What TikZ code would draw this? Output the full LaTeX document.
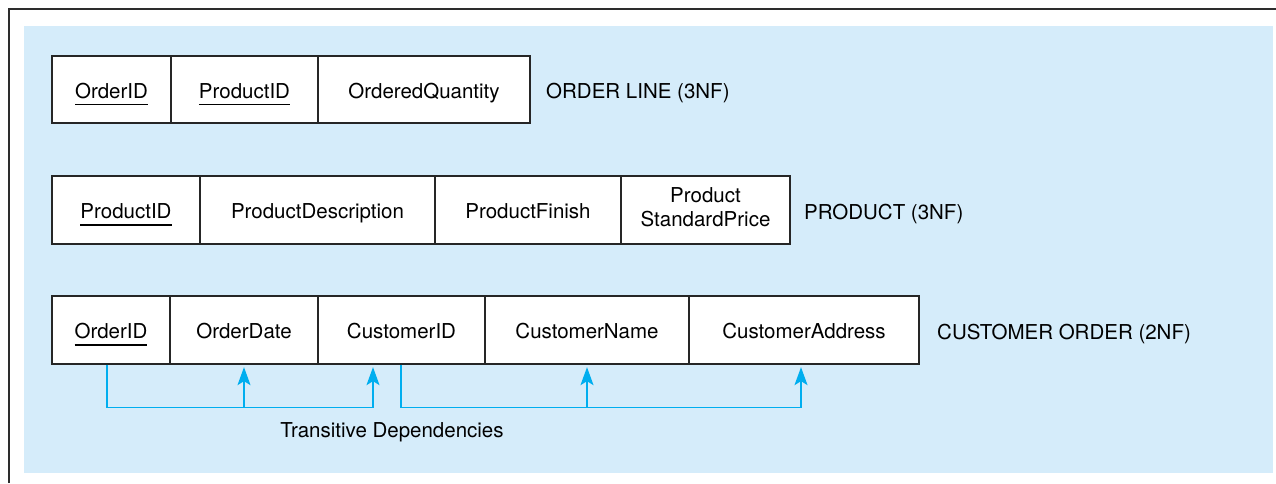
\documentclass[tikz,border=0pt]{standalone}
\usepackage{fontspec}
\setmainfont{TeX Gyre Heros}
\usetikzlibrary{arrows.meta,calc}
\definecolor{bgblue}{RGB}{213,236,250}
\definecolor{depcyan}{RGB}{0,174,239}
\definecolor{framegray}{RGB}{45,45,45}
\newcommand\keyattr[1]{\sbox0{#1}\usebox0\llap{\smash{\rule[-7pt]{\wd0}{1.3pt}}}}
\begin{document}
\begin{tikzpicture}[x=1pt,y=-1pt,
  font=\fontsize{20.5}{24}\selectfont,
  cell/.style={draw=black!85, line width=1.3pt, fill=white, inner sep=0pt,
    minimum height=68pt, text height=19pt, text depth=2pt, align=center},
  relname/.style={anchor=base west, inner sep=0pt},
  dep/.style={draw=depcyan, line width=1.5pt},
  arr/.style={-{Stealth[length=18pt,width=13pt,inset=4pt]}, shorten >=2.5pt}
]
\useasboundingbox (0,0) rectangle (1276,483);
% frame and background
\fill[bgblue] (24,26) rectangle (1273,473);
\draw[framegray, line width=2pt] (9,483) -- (9,9) -- (1276,9);

% ORDER LINE
\node[cell, minimum width=119pt, minimum height=67pt] (ol1) at (111.5,89.5) {\keyattr{OrderID}};
\node[cell, minimum width=147pt, minimum height=67pt] (ol2) at (244.5,89.5) {\keyattr{ProductID}};
\node[cell, minimum width=212pt, minimum height=67pt] (ol3) at (424,89.5) {OrderedQuantity};
\node[relname] (olname) at (546,98) {ORDER LINE (3NF)};

% PRODUCT
\node[cell, minimum width=148pt] (p1) at (126,210) {\keyattr{ProductID}};
\node[cell, minimum width=235pt] (p2) at (317.5,210) {ProductDescription};
\node[cell, minimum width=186pt] (p3) at (528,210) {ProductFinish};
\node[cell, minimum width=169pt, text height=34pt, text depth=2pt] (p4) at (705.5,210) {Product\\StandardPrice};
\node[relname] (pname) at (804,219) {PRODUCT (3NF)};

% CUSTOMER ORDER
\node[cell, minimum width=118pt] (oid) at (111,330) {\keyattr{OrderID}};
\node[cell, minimum width=148pt] (odate) at (244,330) {OrderDate};
\node[cell, minimum width=167pt] (cid) at (401.5,330) {CustomerID};
\node[cell, minimum width=204pt] (cname) at (587,330) {CustomerName};
\node[cell, minimum width=230pt] (caddr) at (804,330) {CustomerAddress};
\node[relname] (coname) at (937,339) {CUSTOMER ORDER (2NF)};

% transitive dependencies
\path ([xshift=-4pt]oid.south) ++(0,43) coordinate (bus1);
\path ([xshift=-0.5pt]cid.south) ++(0,43) coordinate (bus2);
\draw[dep,arr] ([xshift=-4pt]oid.south) -- (bus1) -| ([xshift=-28.5pt]cid.south);
\draw[dep,arr] (bus1 -| odate.south) -- (odate.south);
\draw[dep,arr] ([xshift=-0.5pt]cid.south) -- (bus2) -| ([xshift=-3pt]caddr.south);
\draw[dep,arr] (bus2 -| cname.south) -- (cname.south);
\node[anchor=base, inner sep=0pt] (tdlabel) at (392,437) {Transitive Dependencies};
\end{tikzpicture}
\end{document}
